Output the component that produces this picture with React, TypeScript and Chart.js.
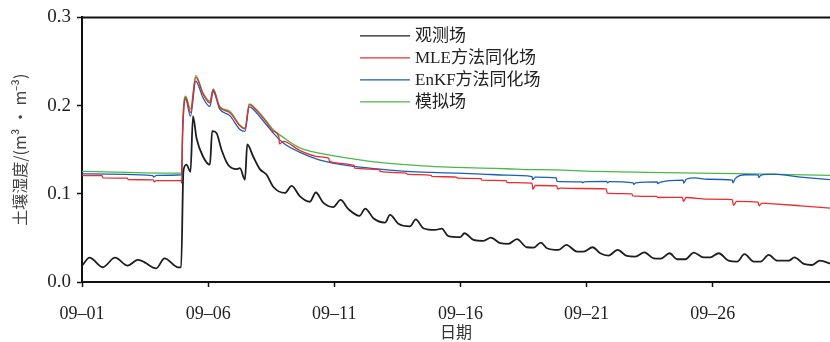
import React, { useEffect, useRef } from 'react';
import { Chart, registerables } from 'chart.js';

Chart.register(...registerables);

// x in days since 09-01 00:00
const xTickDays = [0, 5, 10, 15, 20, 25];
const xTickLabels = ['09–01', '09–06', '09–11', '09–16', '09–21', '09–26'];
const yTickValues = [0, 0.1, 0.2, 0.3];
const seriesNames = ['观测场', 'MLE方法同化场', 'EnKF方法同化场', '模拟场'];
const seriesColors = ['#1e1e1e', '#ee2a2e', '#1a5fb4', '#4cb84a'];

// 观测场
const obsT = [0, 0.3, 0.82, 1.31, 1.81, 2.21, 2.4, 2.5, 2.94, 3.27, 3.8, 3.93, 4.02, 4.14, 4.3, 4.4, 4.54, 4.8, 5.07, 5.16, 5.33, 5.53, 5.79, 6.13, 6.26, 6.46, 6.55, 6.79, 7.05, 7.32, 7.58, 8.04, 8.31, 8.64, 9.03, 9.27, 9.56, 9.96, 10.25, 10.56, 11.0, 11.23, 11.55, 12.01, 12.21, 12.54, 13.0, 13.23, 13.53, 14.0, 14.26, 14.52, 14.99, 15.16, 15.52, 15.91, 16.21, 16.58, 16.9, 17.24, 17.63, 17.9, 18.19, 18.43, 18.89, 19.2, 19.62, 19.88, 20.24, 20.54, 20.87, 21.23, 21.6, 21.93, 22.29, 22.66, 22.95, 23.29, 23.59, 23.92, 24.25, 24.64, 24.9, 25.24, 25.63, 25.97, 26.26, 26.63, 26.9, 27.22, 27.56, 28.02, 28.24, 28.61, 28.94, 29.25, 29.7];
const obsV = [0.0185, 0.0276, 0.0167, 0.0276, 0.0186, 0.025, 0.0235, 0.022, 0.0155, 0.0268, 0.0167, 0.0165, 0.126, 0.133, 0.125, 0.188, 0.163, 0.142, 0.133, 0.171, 0.169, 0.15, 0.133, 0.128, 0.129, 0.116, 0.156, 0.142, 0.128, 0.1216, 0.108, 0.101, 0.109, 0.097, 0.091, 0.1015, 0.09, 0.085, 0.093, 0.0826, 0.075, 0.0833, 0.0723, 0.0674, 0.076, 0.066, 0.063, 0.071, 0.061, 0.059, 0.0606, 0.052, 0.0508, 0.0553, 0.0477, 0.0466, 0.0503, 0.044, 0.0432, 0.0485, 0.0394, 0.039, 0.0447, 0.0383, 0.0364, 0.042, 0.0345, 0.0345, 0.0394, 0.0326, 0.03, 0.0364, 0.0295, 0.0288, 0.0337, 0.0269, 0.0265, 0.0326, 0.0258, 0.0258, 0.0333, 0.028, 0.028, 0.0326, 0.0242, 0.0231, 0.0315, 0.0231, 0.0231, 0.0307, 0.0242, 0.0242, 0.028, 0.0205, 0.0193, 0.0242, 0.0205];

// MLE方法同化场
const mleT = [0, 0.8, 0.83, 1.8, 1.83, 2.83, 2.86, 2.95, 3.93, 3.95, 3.99, 4.11, 4.3, 4.51, 4.8, 5.07, 5.2, 5.46, 5.86, 6.26, 6.46, 6.63, 6.92, 7.32, 7.58, 7.8, 7.83, 7.98, 8.64, 9.4, 9.78, 9.81, 10.78, 10.81, 11.79, 11.82, 12.85, 12.88, 13.84, 13.87, 14.84, 14.87, 15.82, 15.85, 16.82, 16.85, 17.84, 17.87, 17.97, 18.82, 18.85, 18.95, 19.82, 20.78, 20.82, 21.8, 21.83, 22.78, 22.82, 23.8, 23.84, 23.95, 24.78, 25.78, 25.82, 25.95, 26.8, 26.84, 26.95, 27.42, 28.48, 29.7];
const mleV = [0.1205, 0.1205, 0.118, 0.1178, 0.116, 0.1158, 0.1135, 0.115, 0.115, 0.112, 0.17, 0.209, 0.192, 0.232, 0.213, 0.203, 0.218, 0.198, 0.192, 0.177, 0.1735, 0.201, 0.194, 0.181, 0.171, 0.165, 0.1565, 0.1595, 0.149, 0.142, 0.1405, 0.1367, 0.1322, 0.129, 0.1275, 0.1254, 0.1235, 0.1224, 0.121, 0.1197, 0.119, 0.1178, 0.1172, 0.1155, 0.115, 0.1128, 0.112, 0.1052, 0.1094, 0.109, 0.1055, 0.1064, 0.106, 0.1055, 0.1008, 0.1, 0.0977, 0.097, 0.0958, 0.096, 0.0913, 0.0958, 0.094, 0.0935, 0.087, 0.0913, 0.0905, 0.0864, 0.0894, 0.0886, 0.0864, 0.0837];

// EnKF方法同化场
const enkfT = [0, 2.8, 2.85, 2.95, 3.95, 3.99, 4.11, 4.3, 4.51, 4.8, 5.07, 5.2, 5.46, 5.86, 6.26, 6.46, 6.63, 6.92, 7.32, 7.58, 7.98, 8.64, 9.4, 10.8, 11.81, 12.87, 13.86, 14.86, 15.85, 16.84, 17.84, 17.86, 17.95, 18.8, 18.83, 19.82, 19.85, 19.9, 20.8, 20.83, 20.9, 21.85, 21.87, 21.95, 22.8, 22.82, 22.9, 23.83, 23.85, 23.95, 24.3, 24.78, 25.78, 25.8, 25.9, 26.3, 26.8, 26.83, 26.9, 27.42, 28.48, 29.7];
const enkfV = [0.1225, 0.1205, 0.119, 0.121, 0.1216, 0.17, 0.2075, 0.188, 0.2276, 0.2087, 0.199, 0.216, 0.196, 0.1886, 0.173, 0.1708, 0.1985, 0.1917, 0.178, 0.169, 0.1576, 0.147, 0.1386, 0.131, 0.128, 0.1254, 0.1242, 0.1235, 0.1224, 0.1212, 0.1195, 0.116, 0.119, 0.118, 0.114, 0.1135, 0.1125, 0.1135, 0.114, 0.1125, 0.1138, 0.1125, 0.1105, 0.1125, 0.1135, 0.1115, 0.113, 0.1155, 0.112, 0.1165, 0.118, 0.1165, 0.1155, 0.1125, 0.1175, 0.1216, 0.1215, 0.1185, 0.121, 0.1222, 0.119, 0.1159];

// 模拟场
const simT = [0, 3.95, 3.99, 4.11, 4.3, 4.51, 4.8, 5.07, 5.2, 5.46, 5.86, 6.26, 6.46, 6.63, 6.92, 7.32, 7.58, 7.98, 8.64, 9.4, 10.8, 11.81, 12.87, 13.86, 14.86, 15.85, 16.84, 17.8, 18.16, 20.35, 22.4, 26.6, 29.7];
const simV = [0.1255, 0.1235, 0.18, 0.2106, 0.196, 0.234, 0.2144, 0.205, 0.219, 0.199, 0.1935, 0.178, 0.1746, 0.202, 0.1955, 0.182, 0.1727, 0.164, 0.152, 0.146, 0.1394, 0.1356, 0.133, 0.131, 0.13, 0.129, 0.1284, 0.1273, 0.1273, 0.1254, 0.1242, 0.1227, 0.1208];

const FONT = '"Liberation Serif", "Noto Sans CJK SC", serif';
const CJK = '"Noto Sans CJK SC", "Liberation Serif", sans-serif';

const toPts = (t: number[], v: number[]) => t.map((x, i) => ({ x, y: v[i] }));

const innerLegend = {
  id: 'innerLegend',
  afterDraw(chart: any) {
    const ctx = chart.ctx;
    const { left, top } = chart.chartArea;
    ctx.save();
    ctx.font = '17px ' + FONT;
    ctx.textBaseline = 'middle';
    ctx.textAlign = 'left';
    chart.data.datasets.forEach((ds: any, i: number) => {
      const y = top + 18.5 + i * 22;
      ctx.strokeStyle = ds.borderColor;
      ctx.lineWidth = 1.4;
      ctx.beginPath();
      ctx.moveTo(left + 278, y);
      ctx.lineTo(left + 328, y);
      ctx.stroke();
      ctx.fillStyle = '#222';
      ctx.fillText(ds.label, left + 333, y + 1);
    });
    ctx.restore();
  },
};

const topBorder = {
  id: 'topBorder',
  afterDraw(chart: any) {
    const ctx = chart.ctx;
    const { left, right, top } = chart.chartArea;
    ctx.save();
    ctx.strokeStyle = '#111';
    ctx.lineWidth = 2;
    ctx.beginPath();
    ctx.moveTo(left - 1, top);
    ctx.lineTo(right, top);
    ctx.stroke();
    ctx.restore();
  },
};

export default function App() {
  const ref = useRef<HTMLCanvasElement | null>(null);

  useEffect(() => {
    document.body.style.margin = '0';
    const canvas = ref.current;
    if (!canvas) return;
    const seriesT = [obsT, mleT, enkfT, simT];
    const seriesV = [obsV, mleV, enkfV, simV];
    const chart = new Chart(canvas, {
      type: 'line',
      data: {
        datasets: seriesNames.map((name, i) => ({
          label: name,
          data: toPts(seriesT[i], seriesV[i]),
          borderColor: seriesColors[i],
          backgroundColor: seriesColors[i],
          borderWidth: i === 0 ? 1.8 : 1.3,
          pointRadius: 0,
          cubicInterpolationMode: 'monotone' as const,
          fill: false,
        })),
      },
      options: {
        animation: false,
        responsive: true,
        maintainAspectRatio: false,
        layout: { padding: { top: 17, right: 0, left: 0, bottom: 0 } },
        plugins: {
          legend: { display: false },
          tooltip: { enabled: false },
        },
        scales: {
          x: {
            type: 'linear',
            min: 0,
            max: 29.65,
            afterBuildTicks: (axis: any) => {
              axis.ticks = xTickDays.map((v) => ({ value: v }));
            },
            afterFit: (axis: any) => {
              axis.height = 60;
            },
            ticks: {
              autoSkip: false,
              maxRotation: 0,
              padding: 16,
              color: '#222',
              font: { family: FONT, size: 18 },
              callback: (value: any) => {
                const i = xTickDays.indexOf(Number(value));
                return i >= 0 ? xTickLabels[i] : '';
              },
            },
            grid: {
              display: true,
              drawOnChartArea: false,
              drawTicks: true,
              tickLength: 5,
              tickWidth: 1.5,
              color: '#111',
            },
            border: { display: true, color: '#111', width: 2 },
            title: {
              display: true,
              text: '日期',
              color: '#333',
              font: { family: CJK, size: 16 },
              padding: { top: 2, bottom: 0 },
            },
          },
          y: {
            type: 'linear',
            min: 0,
            max: 0.3,
            afterBuildTicks: (axis: any) => {
              axis.ticks = yTickValues.map((v) => ({ value: v }));
            },
            afterFit: (axis: any) => {
              axis.width = 82;
            },
            ticks: {
              padding: 6,
              color: '#222',
              font: { family: FONT, size: 19 },
              callback: (value: any) => Number(value).toFixed(1),
            },
            grid: {
              display: true,
              drawOnChartArea: false,
              drawTicks: true,
              tickLength: 5,
              tickWidth: 1.5,
              color: '#111',
            },
            border: { display: true, color: '#111', width: 2 },
            title: {
              display: true,
              text: '土壤湿度/(m³ · m⁻³)',
              color: '#444',
              font: { family: CJK, size: 16 },
              padding: { top: 10, bottom: 0 },
            },
          },
        },
      },
      plugins: [innerLegend, topBorder],
    });
    return () => chart.destroy();
  }, []);

  return (
    <div style={{ position: 'relative', width: '830px', height: '342px' }}>
      <canvas ref={ref} />
    </div>
  );
}
